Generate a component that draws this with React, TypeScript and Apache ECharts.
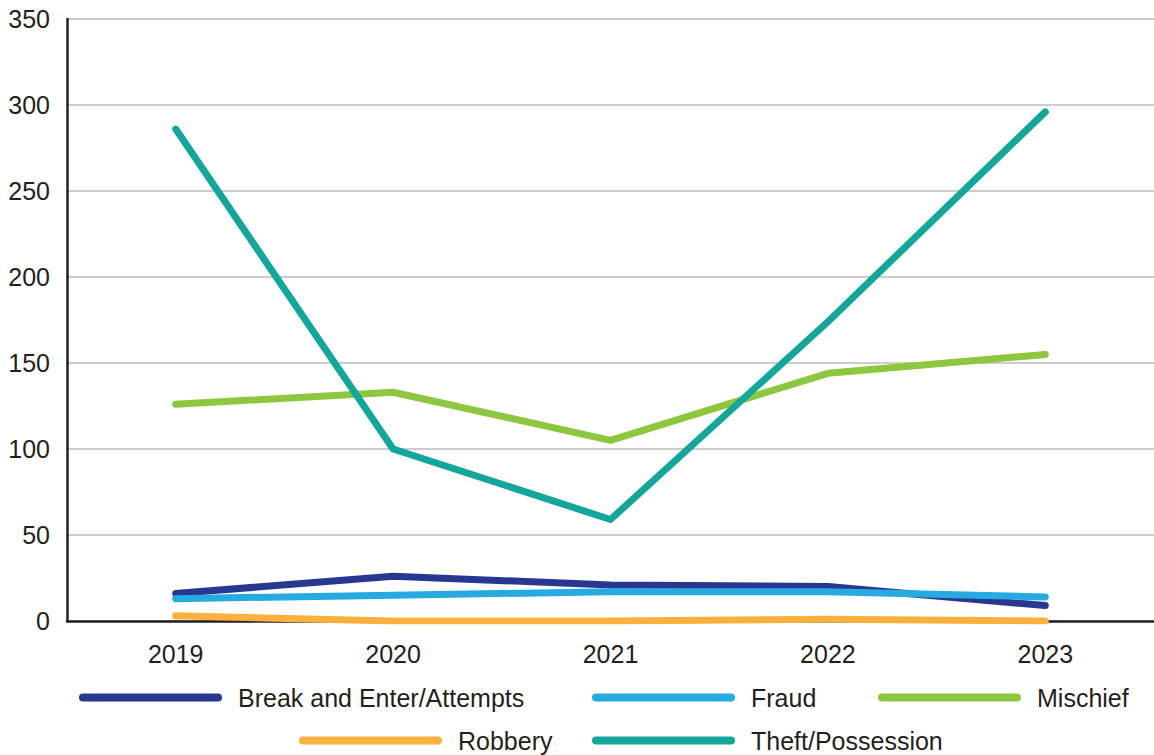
import React, { useEffect, useRef } from "react";
import * as echarts from "echarts";

const years = ["2019", "2020", "2021", "2022", "2023"];
const breakEnter = [16, 26, 21, 20, 9];
const fraud = [13, 15, 17, 17, 14];
const mischief = [126, 133, 105, 144, 155];
const robbery = [3, 0, 0, 1, 0];
const theft = [286, 100, 59, 174, 296];

const seriesNames = ["Break and Enter/Attempts", "Fraud", "Mischief", "Robbery", "Theft/Possession"];
const seriesData = [breakEnter, fraud, mischief, robbery, theft];
const colors = ["#283891", "#27AAE1", "#8DC63F", "#FBB040", "#14A69A"];

const FONT = "Liberation Sans";
const TEXT = "#231f20";
const CAPSULE = "path://M4,0 L139,0 A4,4 0 0 1 139,8 L4,8 A4,4 0 0 1 4,0 Z";

const legendPos = [
  { left: 79, top: 685 },
  { left: 592, top: 685 },
  { left: 878, top: 685 },
  { left: 299, top: 728 },
  { left: 592, top: 728 },
];

export default function App() {
  const ref = useRef<HTMLDivElement>(null);
  useEffect(() => {
    if (!ref.current) return;
    const chart = echarts.init(ref.current, null, { renderer: "svg" });
    chart.setOption({
      animation: false,
      color: colors,
      grid: { left: 67, right: 0, top: 19, bottom: 134, containLabel: false },
      xAxis: {
        type: "category",
        data: years,
        boundaryGap: true,
        axisLine: { lineStyle: { color: TEXT, width: 2.5 } },
        axisTick: { inside: true, length: 10, lineStyle: { color: TEXT, width: 2 } },
        axisLabel: { color: TEXT, fontFamily: FONT, fontSize: 25, margin: 20 },
      },
      yAxis: {
        type: "value",
        min: 0,
        max: 350,
        interval: 50,
        axisLine: { show: true, lineStyle: { color: TEXT, width: 2.5 } },
        axisTick: { show: false },
        axisLabel: { color: TEXT, fontFamily: FONT, fontSize: 25, margin: 17 },
        splitLine: { lineStyle: { color: "#cccccc", width: 2 } },
      },
      legend: seriesNames.map((n, i) => ({
        data: [n],
        left: legendPos[i].left,
        top: legendPos[i].top,
        orient: "horizontal",
        icon: CAPSULE,
        itemWidth: 143,
        itemHeight: 8,
        padding: 0,
        textStyle: { color: TEXT, fontFamily: FONT, fontSize: 25, padding: [0, 0, 0, 11] },
      })),
      series: seriesNames.map((n, i) => ({
        name: n,
        type: "line",
        data: seriesData[i],
        symbol: "none",
        lineStyle: { width: 7, color: colors[i], cap: "round", join: "round" },
        itemStyle: { color: colors[i] },
      })),
    });
    return () => chart.dispose();
  }, []);
  return (
    <div
      ref={ref}
      style={{ position: "fixed", left: 0, top: 0, width: 1154, height: 755, background: "#fff" }}
    />
  );
}
